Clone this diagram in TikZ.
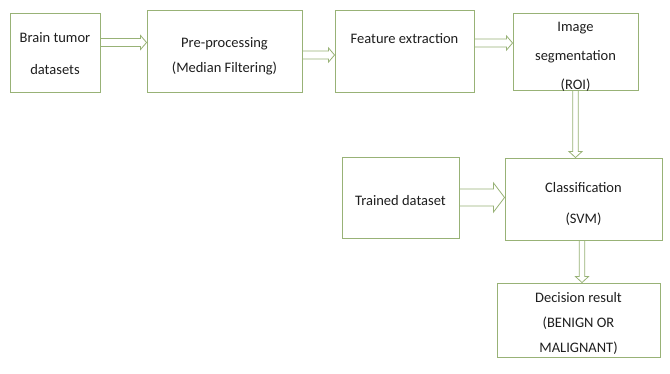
\documentclass[tikz,border=0pt]{standalone}
\usepackage{fontspec}
\setmainfont{Carlito}
\usetikzlibrary{calc}

\definecolor{boxColor}{RGB}{152,178,118}
\definecolor{textColor}{RGB}{30,30,30}

\tikzset{
  stage/.style={draw=boxColor,line width=0.9pt,fill=white,inner sep=0pt},
  caption/.style={text=textColor,align=center,inner sep=0pt,
    font=\fontsize{14.5}{27}\selectfont},
  arrowdims/.code args={#1/#2/#3}{\def\shaftw{#1}\def\headw{#2}\def\headl{#3}},
  flow/.style={draw=boxColor,line width=0.8pt,line join=miter,arrowdims=4pt/7pt/6pt,
    to path={let \p1=(\tikztostart), \p2=(\tikztotarget),
      \n1={atan2(\y2-\y1,\x2-\x1)} in
      ($(\p1)+(\n1+90:\shaftw)$)
      -- ($(\p2)+(\n1+180:\headl)+(\n1+90:\shaftw)$)
      -- ($(\p2)+(\n1+180:\headl)+(\n1+90:\headw)$)
      -- (\p2)
      -- ($(\p2)+(\n1+180:\headl)+(\n1-90:\headw)$)
      -- ($(\p2)+(\n1+180:\headl)+(\n1-90:\shaftw)$)
      -- ($(\p1)+(\n1-90:\shaftw)$)}},
  thinflow/.style={flow,arrowdims=2.8pt/6.5pt/6pt},
  bigflow/.style={flow,arrowdims=8.5pt/14.5pt/11pt}
}

\begin{document}
\begin{tikzpicture}[x=1pt,y=1pt]
\path[use as bounding box,fill=white] (0,0) rectangle (670,373);

% top row
\node[stage,minimum width=90pt,minimum height=79pt,
  label={[caption,yshift=-1pt,font=\fontsize{14.5}{32}\selectfont]center:{Brain tumor\\datasets}}]
  (data) at (55,320.5) {};
\node[stage,minimum width=155pt,minimum height=82pt,
  label={[caption,yshift=-5pt,font=\fontsize{14.5}{25}\selectfont]center:{Pre-processing\\(Median Filtering)}}]
  (prep) at (224.5,322) {};
\node[stage,minimum width=139pt,minimum height=82pt,
  label={[caption,yshift=-34pt]north:{Feature extraction}}]
  (feat) at (404.5,322) {};
\node[stage,minimum width=125pt,minimum height=77pt,
  label={[caption,yshift=-5pt,font=\fontsize{14.5}{29}\selectfont]center:{Image\\segmentation\\(ROI)}}]
  (seg) at (575.5,321.5) {};

% lower part
\node[stage,minimum width=157pt,minimum height=82pt,
  label={[caption,yshift=-5pt,font=\fontsize{14.5}{31}\selectfont]center:{Classification\\(SVM)}}]
  (svm) at (583.5,174) {};
\node[stage,minimum width=117pt,minimum height=81pt,
  label={[caption,yshift=-3pt]center:{Trained dataset}}]
  (train) at (400.5,175.5) {};
\node[stage,minimum width=163pt,minimum height=74pt,
  label={[caption,yshift=-3pt,font=\fontsize{14.5}{25}\selectfont]center:{Decision result\\(BENIGN OR\\MALIGNANT)}}]
  (res) at (578.5,53) {};

% connectors
\draw[flow] ([yshift=10pt]data.east) to ([yshift=10pt]data.east -| prep.west);
\draw[flow] ([yshift=-4pt]prep.east) to ([yshift=-4pt]prep.east -| feat.west);
\draw[flow] ([yshift=8pt]feat.east) to ([yshift=8pt]feat.east -| seg.west);
\draw[thinflow] (seg.south) to (seg.south |- svm.north);
\draw[bigflow] (train.east) to (train.east -| svm.west);
\draw[thinflow] ([xshift=-1.5pt]svm.south) to ([xshift=-1.5pt]svm.south |- res.north);
\end{tikzpicture}
\end{document}
